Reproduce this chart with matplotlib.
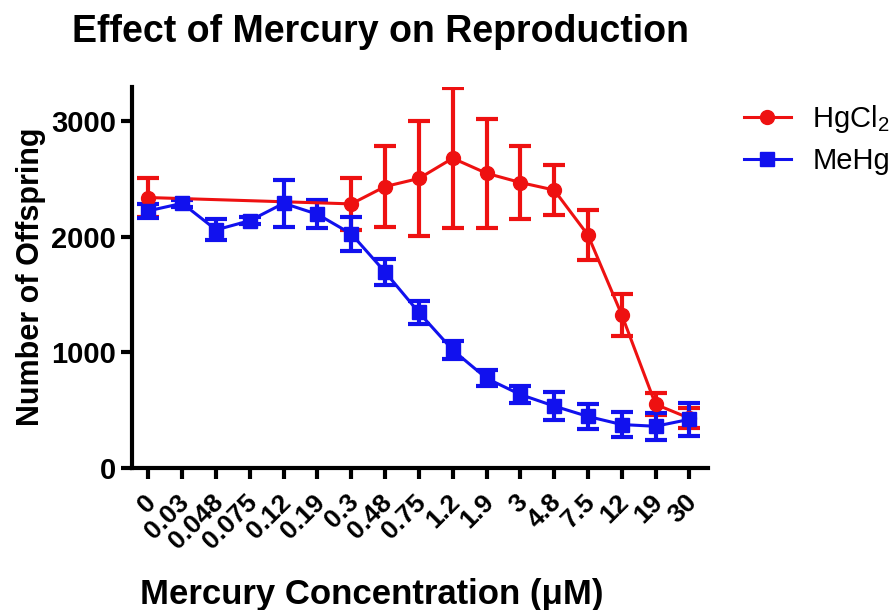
import matplotlib
matplotlib.use("Agg")
import matplotlib.pyplot as plt
from matplotlib.lines import Line2D
import numpy as np

plt.rcParams['font.family'] = ['Liberation Sans', 'DejaVu Sans']
plt.rcParams['mathtext.fontset'] = 'custom'
plt.rcParams['mathtext.rm'] = 'Liberation Sans'

concentrations = ['0', '0.03', '0.048', '0.075', '0.12', '0.19', '0.3', '0.48', '0.75',
                  '1.2', '1.9', '3', '4.8', '7.5', '12', '19', '30']

# HgCl2 was not tested at 0.03 - 0.19 uM
hgcl2_mean = [2340, None, None, None, None, None, 2285, 2435, 2505,
              2680, 2550, 2470, 2405, 2015, 1325, 550, 430]
hgcl2_err = [170, None, None, None, None, None, 225, 350, 495,
             605, 470, 315, 220, 220, 180, 95, 85]

mehg_mean = [2225, 2290, 2060, 2140, 2290, 2195, 2025, 1695, 1345,
             1020, 775, 635, 535, 445, 375, 360, 420]
mehg_err = [60, 30, 90, 30, 205, 120, 145, 115, 100,
            80, 70, 75, 120, 105, 105, 115, 140]

red = '#ee1111'
blue = '#1111ee'

x = np.arange(len(concentrations))
hg_idx = [i for i, v in enumerate(hgcl2_mean) if v is not None]

fig = plt.figure(figsize=(8.95, 6.10), dpi=100)
ax = fig.add_axes([0.147, 0.233, 0.644, 0.625])

ax.errorbar(x[hg_idx], [hgcl2_mean[i] for i in hg_idx], yerr=[hgcl2_err[i] for i in hg_idx],
            color=red, marker='o', markersize=10, linewidth=2.2,
            elinewidth=3, capsize=8, capthick=3)
ax.errorbar(x, mehg_mean, yerr=mehg_err,
            color=blue, marker='s', markersize=10, linewidth=2.2,
            elinewidth=3, capsize=8, capthick=3)

ax.set_xlim(-0.5, 16.55)
ax.set_ylim(0, 3300)
ax.set_yticks([0, 1000, 2000, 3000])
ax.set_xticks(x)
ax.set_xticklabels([])
# rotated concentration labels, ends tucked just below-right of each tick
for xi, lab in zip(x, concentrations):
    ax.annotate(lab, xy=(xi, 0), xycoords=('data', 'axes fraction'),
                xytext=(2.5, -22), textcoords='offset points',
                rotation=45, rotation_mode='anchor', ha='right', va='center',
                fontsize=19, fontweight='bold')
for lbl in ax.get_yticklabels():
    lbl.set_fontsize(21)
    lbl.set_fontweight('bold')

for side in ['top', 'right']:
    ax.spines[side].set_visible(False)
for side in ['left', 'bottom']:
    ax.spines[side].set_linewidth(3)
ax.tick_params(width=3, length=8, direction='out', pad=3)

ax.set_ylabel('Number of Offspring', fontsize=22, fontweight='bold', labelpad=4)
ax.set_xlabel('Mercury Concentration (\u03bcM)', fontsize=25, fontweight='bold')
ax.xaxis.set_label_coords(0.417, -0.29)
fig.text(0.425, 0.948, 'Effect of Mercury on Reproduction', fontsize=27, fontweight='bold',
         ha='center', va='center')

handles = [Line2D([], [], color=red, marker='o', markersize=10, linewidth=2.2),
           Line2D([], [], color=blue, marker='s', markersize=10, linewidth=2.2)]
ax.legend(handles, ['HgCl$_2$', 'MeHg'], loc='upper left', bbox_to_anchor=(1.027, 1.01),
          frameon=False, fontsize=21, handlelength=1.6, handletextpad=0.75,
          labelspacing=0.4, borderaxespad=0.3)

fig.savefig('out.png', dpi=100)
